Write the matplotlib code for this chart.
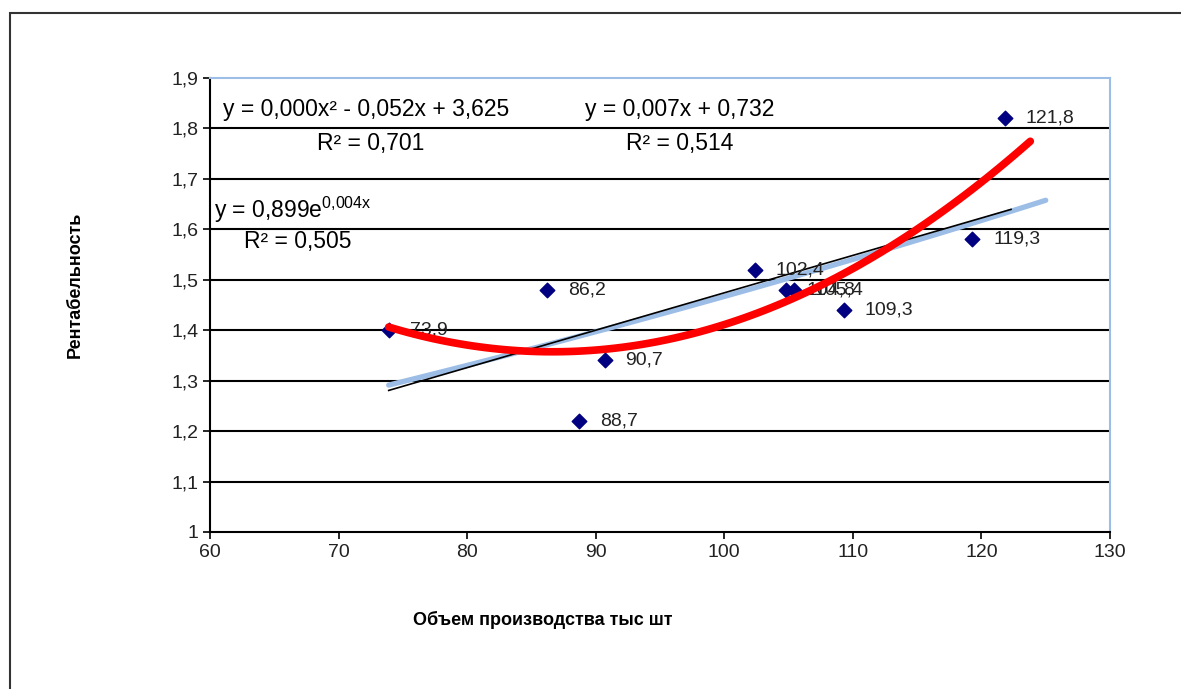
import numpy as np
import matplotlib
matplotlib.use("Agg")
import matplotlib.pyplot as plt
from matplotlib.patches import Rectangle

plt.rcParams['font.family'] = ['Liberation Sans', 'DejaVu Sans']
plt.rcParams['mathtext.fontset'] = 'custom'
plt.rcParams['mathtext.rm'] = 'Liberation Sans'

volume = [73.9, 86.2, 88.7, 90.7, 102.4, 104.8, 105.4, 109.3, 119.3, 121.8]
profit = [1.40, 1.48, 1.22, 1.34, 1.52, 1.48, 1.48, 1.44, 1.58, 1.82]
point_labels = ["73,9", "86,2", "88,7", "90,7", "102,4", "104,8", "105,4", "109,3", "119,3", "121,8"]
yticks = [1.0, 1.1, 1.2, 1.3, 1.4, 1.5, 1.6, 1.7, 1.8, 1.9]
ytick_labels = ["1", "1,1", "1,2", "1,3", "1,4", "1,5", "1,6", "1,7", "1,8", "1,9"]
xticks = [60, 70, 80, 90, 100, 110, 120, 130]

x = np.array(volume)
y = np.array(profit)

fig = plt.figure(figsize=(11.81, 6.89), dpi=100)
ax = fig.add_axes([0.1778, 0.2279, 0.9399 - 0.1778, 0.8868 - 0.2279])

# outer chart frame (only top and left edges visible)
fig.add_artist(Rectangle((10 / 1181, -0.2), 1.2, 1.2 - 13 / 689, transform=fig.transFigure,
                         fill=False, ec="#333333", lw=1.5, clip_on=False))

for t in yticks[1:-1]:
    ax.axhline(t, color="black", lw=1.5, zorder=1)

# trendlines
ce = np.polyfit(x, np.log(y), 1)
xe = np.linspace(x.min(), 125, 100)
ax.plot(xe, np.exp(ce[1]) * np.exp(ce[0] * xe), color="#9cbde6", lw=3.8, zorder=2, solid_capstyle="round")

cl = np.polyfit(x, y, 1)
xl = np.linspace(x.min(), 122.3, 100)
ax.plot(xl, np.polyval(cl, xl), color="black", lw=1.2, zorder=3)

ax.scatter(x, y, marker="D", s=55, color="#000080", zorder=4)
for xi, yi, lab in zip(x, y, point_labels):
    ax.annotate(lab, (xi, yi), xytext=(15, 0), textcoords="offset points", va="center",
                fontsize=14, color="#222222", zorder=4)

cp = np.polyfit(x, y, 2)
xp = np.linspace(x.min(), 123.8, 100)
ax.plot(xp, np.polyval(cp, xp), color="#ff0000", lw=5.5, zorder=5, solid_capstyle="round")

# equations
eq_size = 16.5
ax.text(61, 1.837, "y = 0,000x² - 0,052x + 3,625", fontsize=eq_size, va="center", ha="left")
ax.text(72.5, 1.77, "R² = 0,701", fontsize=eq_size, va="center", ha="center")
ax.text(96.5, 1.837, "y = 0,007x + 0,732", fontsize=eq_size, va="center", ha="center")
ax.text(96.5, 1.77, "R² = 0,514", fontsize=eq_size, va="center", ha="center")
ax.text(60.3, 1.638, r"y = 0,899e$\mathregular{^{0{,}004x}}$", fontsize=eq_size, va="center", ha="left")
ax.text(66.8, 1.575, "R² = 0,505", fontsize=eq_size, va="center", ha="center")

ax.set_xlim(60, 130)
ax.set_ylim(1.0, 1.9)
ax.set_xticks(xticks)
ax.set_xticklabels([str(v) for v in xticks])
ax.set_yticks(yticks)
ax.set_yticklabels(ytick_labels)
ax.tick_params(labelsize=14, length=5, width=1.2, colors="black", labelcolor="#222222")
for s in ["left", "bottom"]:
    ax.spines[s].set_color("black")
    ax.spines[s].set_linewidth(1.5)
for s in ["top", "right"]:
    ax.spines[s].set_color("#9cbde6")
    ax.spines[s].set_linewidth(1.5)

fig.text(543 / 1181, 1 - 620 / 689, "Объем производства тыс шт", fontsize=13, fontweight="bold",
         ha="center", va="center")
fig.text(75 / 1181, 1 - 285 / 689, "Рентабельность", fontsize=13, fontweight="bold",
         ha="center", va="center", rotation=90)

fig.savefig("out.png", dpi=100)
